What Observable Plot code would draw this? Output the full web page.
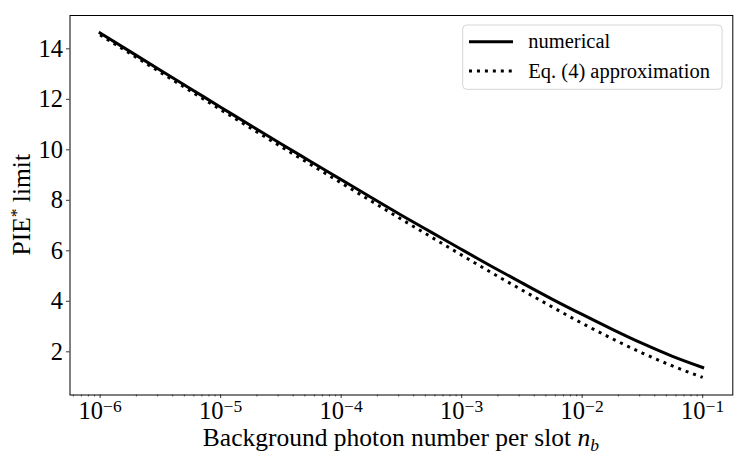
<!DOCTYPE html>
<html><head><meta charset="utf-8">
<script src="https://cdn.jsdelivr.net/npm/d3@7"></script>
<script src="https://cdn.jsdelivr.net/npm/@observablehq/plot@0.6"></script>
<style>body{margin:0;background:#fff} #chart{width:747px;height:462px}</style>
</head><body><div id="chart"></div>
<script>
// Background photon number per slot (x)
const nb = [1e-6, 1.778e-6, 3.162e-6, 5.623e-6, 1e-5, 1.778e-5, 3.162e-5, 5.623e-5,
            1e-4, 1.778e-4, 3.162e-4, 5.623e-4, 1e-3, 1.778e-3, 3.162e-3, 5.623e-3,
            1e-2, 1.778e-2, 3.162e-2, 5.623e-2, 1e-1];
// PIE* limit, numerical
const numerical = [14.63, 13.89, 13.15, 12.42, 11.69, 10.96, 10.24, 9.53, 8.82, 8.11, 7.41,
                   6.73, 6.05, 5.38, 4.73, 4.09, 3.48, 2.89, 2.33, 1.82, 1.38];
// PIE* limit, Eq. (4) approximation
const approx = [14.55, 13.81, 13.07, 12.33, 11.59, 10.86, 10.13, 9.41, 8.69, 7.97, 7.25,
                6.54, 5.83, 5.13, 4.45, 3.78, 3.13, 2.52, 1.95, 1.44, 0.99];

const xTicks = [1e-6, 1e-5, 1e-4, 1e-3, 1e-2, 1e-1];
const xTickLabels = ["10^\u22126", "10^\u22125", "10^\u22124", "10^\u22123", "10^\u22122", "10^\u22121"];
const xMinorTicks = [6e-7, 7e-7, 8e-7, 9e-7,
  2e-6, 3e-6, 4e-6, 5e-6, 6e-6, 7e-6, 8e-6, 9e-6,
  2e-5, 3e-5, 4e-5, 5e-5, 6e-5, 7e-5, 8e-5, 9e-5,
  2e-4, 3e-4, 4e-4, 5e-4, 6e-4, 7e-4, 8e-4, 9e-4,
  2e-3, 3e-3, 4e-3, 5e-3, 6e-3, 7e-3, 8e-3, 9e-3,
  2e-2, 3e-2, 4e-2, 5e-2, 6e-2, 7e-2, 8e-2, 9e-2];
const yTicks = [2, 4, 6, 8, 10, 12, 14];
const seriesNames = ["numerical", "Eq. (4) approximation"];
const xLabel = "Background photon number per slot ";
const yLabel = "PIE";

const rows = nb.map((x, i) => ({x, num: numerical[i], apx: approx[i]}));

const W = 747, H = 462, mL = 69.5, mR = 14.7, mT = 15, mB = 67.5;
const FONT = "'Liberation Serif', 'Times New Roman', serif";
const TICKFS = 24.5, LABELFS = 25.5, SUPFS = 17.5, LEGFS = 20.5;
const solidW = 3, dotW = 3, dash = "3,4.95";

const plot = Plot.plot({
  width: W, height: H,
  marginLeft: mL, marginRight: mR, marginTop: mT, marginBottom: mB,
  style: {fontFamily: FONT, fontSize: TICKFS + "px", background: "white", color: "black"},
  x: {type: "log", domain: [Math.pow(10, -6.25), Math.pow(10, -0.75)], label: null},
  y: {domain: [0.29, 15.32], label: null},
  marks: [
    Plot.axisX(xMinorTicks, {tickSize: 2, tickFormat: () => "", strokeWidth: 0.6, label: null}),
    Plot.axisX(xTicks, {tickSize: 3.5, tickPadding: 3.5, strokeWidth: 0.8, fontSize: TICKFS,
      tickFormat: (d) => xTickLabels[xTicks.indexOf(d)], label: null}),
    Plot.axisY(yTicks, {tickSize: 3.5, tickPadding: 3.5, strokeWidth: 0.8, fontSize: TICKFS, label: null}),
    Plot.line(rows, {x: "x", y: "num", stroke: "black", strokeWidth: solidW, strokeLinecap: "square", curve: "monotone-x"}),
    Plot.line(rows, {x: "x", y: "apx", stroke: "black", strokeWidth: dotW, strokeDasharray: dash,
      strokeLinecap: "butt", strokeLinejoin: "miter", curve: "monotone-x"}),
    Plot.frame({stroke: "black", strokeWidth: 1})
  ]
});

document.getElementById("chart").appendChild(plot);
const svg = d3.select(plot);

// superscript tick labels
svg.selectAll("text").each(function() {
  const t = this.textContent;
  if (t.includes("^")) {
    const [base, exp] = t.split("^");
    const el = d3.select(this);
    el.text(null);
    el.append("tspan").text(base);
    el.append("tspan").attr("dy", "-0.42em").attr("font-size", SUPFS + "px").text(exp);
  }
});

// axis titles
const xt = svg.append("text")
  .attr("x", (mL + W - mR) / 2).attr("y", 446)
  .attr("text-anchor", "middle").attr("font-family", FONT).attr("font-size", LABELFS).attr("fill", "black");
xt.append("tspan").text(xLabel);
xt.append("tspan").attr("font-style", "italic").text("n");
xt.append("tspan").attr("font-style", "italic").attr("font-size", SUPFS).attr("dy", "0.3em").text("b");

const yt = svg.append("text")
  .attr("transform", `translate(30,${(mT + H - mB) / 2}) rotate(-90)`)
  .attr("text-anchor", "middle").attr("font-family", FONT).attr("font-size", LABELFS).attr("fill", "black");
yt.append("tspan").text(yLabel);
yt.append("tspan").attr("font-size", SUPFS).attr("dy", "-0.45em").text("*");
yt.append("tspan").attr("dy", "0.31em").text(" limit");

// legend
const lg = svg.append("g").attr("font-family", FONT).attr("font-size", LEGFS).attr("text-anchor", "start");
lg.append("rect").attr("x", 462.7).attr("y", 25).attr("width", 259.3).attr("height", 64.3)
  .attr("rx", 4).attr("fill", "white").attr("fill-opacity", 0.8).attr("stroke", "#d6d6d6");
const ly = [41.7, 71];
seriesNames.forEach((name, i) => {
  lg.append("line").attr("x1", 469).attr("x2", 513).attr("y1", ly[i]).attr("y2", ly[i])
    .attr("stroke", "black").attr("stroke-width", i === 0 ? solidW : dotW)
    .attr("stroke-dasharray", i === 0 ? null : dash);
  lg.append("text").attr("x", 528.3).attr("y", ly[i]).attr("dy", "0.33em")
    .attr("text-anchor", "start").attr("fill", "black").text(name);
});
</script>
</body></html>
